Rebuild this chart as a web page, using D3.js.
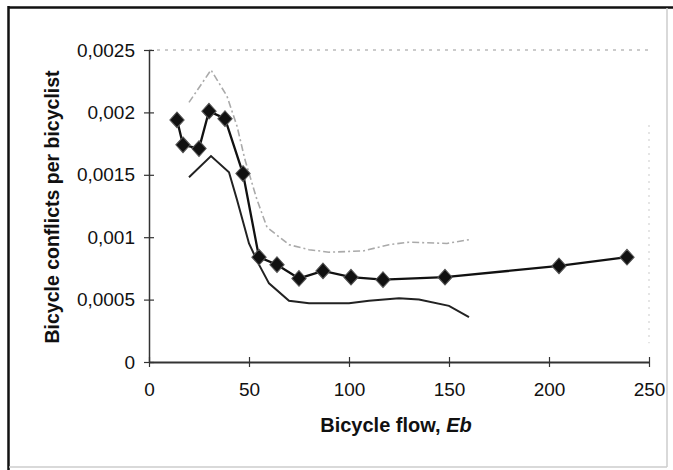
<!DOCTYPE html>
<html>
<head>
<meta charset="utf-8">
<script src="https://cdn.jsdelivr.net/npm/d3@7"></script>
<style>
  body { margin: 0; background: #fff; }
  text { font-family: Arial, "Liberation Sans", sans-serif; fill: #111; }
</style>
</head>
<body>
<svg width="673" height="470"></svg>
<script>
// values
var meanFlow = [14, 17, 25, 30, 38, 47, 55, 64, 75, 87, 101, 117, 148, 205, 239];
var meanConflicts = [0.00194, 0.00174, 0.00171, 0.00201, 0.00195, 0.00151, 0.00084, 0.00078,
    0.00067, 0.00073, 0.00068, 0.00066, 0.00068, 0.00077, 0.00084];

var upperFlow = [20, 31, 39, 44, 48, 54, 59, 70, 80, 90, 107, 120, 130, 149, 160];
var upperConflicts = [0.00208, 0.00234, 0.00213, 0.00189, 0.00162, 0.0013, 0.00108, 0.00094,
    0.0009, 0.00088, 0.00089, 0.00094, 0.00096, 0.00095, 0.00098];

var lowerFlow = [20, 31, 40, 44, 50, 55, 60, 70, 80, 100, 110, 125, 135, 150, 160];
var lowerConflicts = [0.00148, 0.00165, 0.00152, 0.0013, 0.00095, 0.00078, 0.00063, 0.00049,
    0.00047, 0.00047, 0.00049, 0.00051, 0.0005, 0.00045, 0.00036];

var xTicks = [0, 50, 100, 150, 200, 250];
var yTicks = [0, 0.0005, 0.001, 0.0015, 0.002, 0.0025];
var yTickLabels = ["0", "0,0005", "0,001", "0,0015", "0,002", "0,0025"];

var svg = d3.select("svg");

var x = d3.scaleLinear().domain([0, 250]).range([149, 649]);
var y = d3.scaleLinear().domain([0, 0.0025]).range([362, 50]);

// outer frame of the scanned chart
svg.append("line").attr("x1", 8).attr("y1", 7.5).attr("x2", 673).attr("y2", 7.5)
    .attr("stroke", "#111").attr("stroke-width", 2.5);
svg.append("line").attr("x1", 8.5).attr("y1", 6).attr("x2", 8.5).attr("y2", 470)
    .attr("stroke", "#111").attr("stroke-width", 2.5);
svg.append("line").attr("x1", 667).attr("y1", 8).attr("x2", 667).attr("y2", 467)
    .attr("stroke", "#ccc").attr("stroke-width", 1.5);
svg.append("line").attr("x1", 9).attr("y1", 467).attr("x2", 667).attr("y2", 467)
    .attr("stroke", "#ccc").attr("stroke-width", 1.5);

// faint plot area border (top and right)
svg.append("line").attr("x1", x(0)).attr("y1", y(0.0025)).attr("x2", x(250)).attr("y2", y(0.0025))
    .attr("stroke", "#bbb").attr("stroke-width", 1.5).attr("stroke-dasharray", "3,5");
svg.append("line").attr("x1", x(250)).attr("y1", y(0.0019)).attr("x2", x(250)).attr("y2", y(0.00015))
    .attr("stroke", "#ddd").attr("stroke-width", 1.5).attr("stroke-dasharray", "2,5");

// axes
var xAxis = d3.axisBottom(x).tickValues(xTicks).tickSize(0).tickPadding(21);
var gx = svg.append("g").attr("transform", "translate(0," + y(0) + ")").call(xAxis);
gx.select(".domain").attr("stroke", "#333").attr("stroke-width", 2);
gx.selectAll(".tick").append("line").attr("y1", -5).attr("y2", 5)
    .attr("stroke", "#333").attr("stroke-width", 1.2);
gx.selectAll("text").style("font-size", "19px").attr("fill", "#111");

var yAxis = d3.axisLeft(y).tickValues(yTicks).tickSize(0).tickPadding(14)
    .tickFormat(function (d, i) { return yTickLabels[i]; });
var gy = svg.append("g").attr("transform", "translate(" + x(0) + ",0)").call(yAxis);
gy.select(".domain").attr("stroke", "#333").attr("stroke-width", 1.5);
gy.selectAll(".tick").append("line").attr("x1", -5).attr("x2", 5)
    .attr("stroke", "#333").attr("stroke-width", 1.2);
gy.selectAll("text").style("font-size", "19px").attr("fill", "#111");

// series
var line = d3.line()
    .x(function (d) { return x(d[0]); })
    .y(function (d) { return y(d[1]); });

svg.append("path")
    .datum(d3.zip(upperFlow, upperConflicts))
    .attr("d", line)
    .attr("fill", "none")
    .attr("stroke", "#aaa")
    .attr("stroke-width", 1.6)
    .attr("stroke-dasharray", "7,3,2,3");

svg.append("path")
    .datum(d3.zip(lowerFlow, lowerConflicts))
    .attr("d", line)
    .attr("fill", "none")
    .attr("stroke", "#222")
    .attr("stroke-width", 2);

var mean = d3.zip(meanFlow, meanConflicts);
svg.append("path")
    .datum(mean)
    .attr("d", line)
    .attr("fill", "none")
    .attr("stroke", "#111")
    .attr("stroke-width", 2.3);

svg.append("g").selectAll("path")
    .data(mean)
    .enter().append("path")
    .attr("d", d3.symbol().type(d3.symbolDiamond2).size(130))
    .attr("transform", function (d) {
        return "translate(" + x(d[0]) + "," + y(d[1]) + ") scale(1,1.1)";
    })
    .attr("fill", "#111")
    .attr("stroke", "#555")
    .attr("stroke-width", 1);

// axis titles
svg.append("text")
    .attr("transform", "translate(59,207) rotate(-90)")
    .attr("text-anchor", "middle")
    .style("font-size", "19.5px")
    .style("font-weight", "bold")
    .text("Bicycle conflicts per bicyclist");

var xt = svg.append("text")
    .attr("x", 396)
    .attr("y", 432)
    .attr("text-anchor", "middle")
    .style("font-size", "20px")
    .style("font-weight", "bold");
xt.append("tspan").text("Bicycle flow, ");
xt.append("tspan").style("font-style", "italic").text("Eb");
</script>
</body>
</html>
